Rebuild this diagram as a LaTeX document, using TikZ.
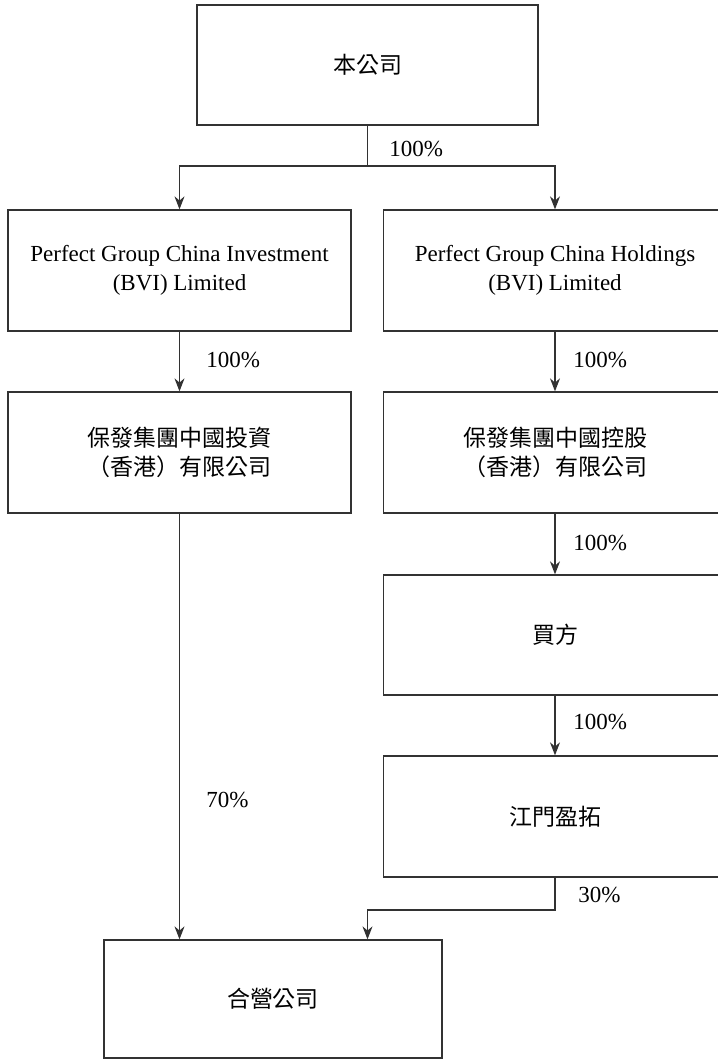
\documentclass[tikz,border=0pt]{standalone}
\usepackage{fontspec}
\setmainfont{Liberation Serif}
\newfontfamily\cjk{Noto Sans CJK TC}
\usepackage{tikz}
\usetikzlibrary{positioning, arrows.meta, calc}
\definecolor{lineblack}{RGB}{50,50,50}

\begin{document}
\begin{tikzpicture}[
    x=0.5pt, y=-0.5pt,
    box/.style={draw=lineblack, line width=0.65pt, minimum width=171.5pt, minimum height=60.5pt, align=center, inner sep=0pt, font=\fontsize{11.5pt}{14.5pt}\selectfont},
    jvbox/.style={box, minimum width=169pt, minimum height=59pt},
    pct/.style={anchor=west, inner sep=0pt, font=\fontsize{11.5pt}{14.5pt}\selectfont},
    arrow/.style={-{Stealth[length=6.5pt, width=5pt]}, draw=lineblack, line width=0.65pt},
    link/.style={draw=lineblack, line width=0.65pt}
]
\useasboundingbox (0,0) rectangle (718,1062);

% Top: the company
\node[box, minimum width=170.5pt, minimum height=60pt] (co) at (367.5,65) {\cjk 本公司};

% Row 1: BVI companies
\node[box] (pgci) at (179.5,270.5) {Perfect Group China Investment\\(BVI) Limited};
\node[box] (pgch) at (555,270.5) {Perfect Group China Holdings\\(BVI) Limited};

\coordinate (split) at (367.5,166);
\draw[link] (co.south) -- (split);
\draw[arrow] (split) -| (pgci.north);
\draw[arrow] (split) -| (pgch.north);
\node[pct] (p1) at (389,149) {100\%};

% Row 2: Hong Kong companies
\node[box] (hkinv) at (179.5,452.5) {\cjk 保發集團中國投資\\\cjk （香港）有限公司};
\node[box] (hkhold) at (555,452.5) {\cjk 保發集團中國控股\\\cjk （香港）有限公司};

\draw[arrow] (pgci) -- (hkinv);
\draw[arrow] (pgch) -- (hkhold);
\node[pct] (p2) at (206,360) {100\%};
\node[pct] (p3) at (573,360) {100\%};

% Right column: buyer and Jiangmen
\node[box, minimum height=60pt] (buyer) at (555,635) {\cjk 買方};
\node[box] (jm) at (555,816.5) {\cjk 江門盈拓};

\draw[arrow] (hkhold) -- (buyer);
\draw[arrow] (buyer) -- (jm);
\node[pct] (p4) at (573,543) {100\%};
\node[pct] (p5) at (573,722) {100\%};

% Bottom: joint venture
\node[jvbox] (jv) at (273,999) {\cjk 合營公司};

\draw[arrow] (hkinv.south) -- (hkinv.south |- jv.north);
\node[pct] (p6) at (206,800) {70\%};

\coordinate (bend) at (555,910);
\draw[arrow] (jm.south) -- (bend) -| (co.south |- jv.north);
\node[pct] (p7) at (578,895) {30\%};

\end{tikzpicture}
\end{document}
